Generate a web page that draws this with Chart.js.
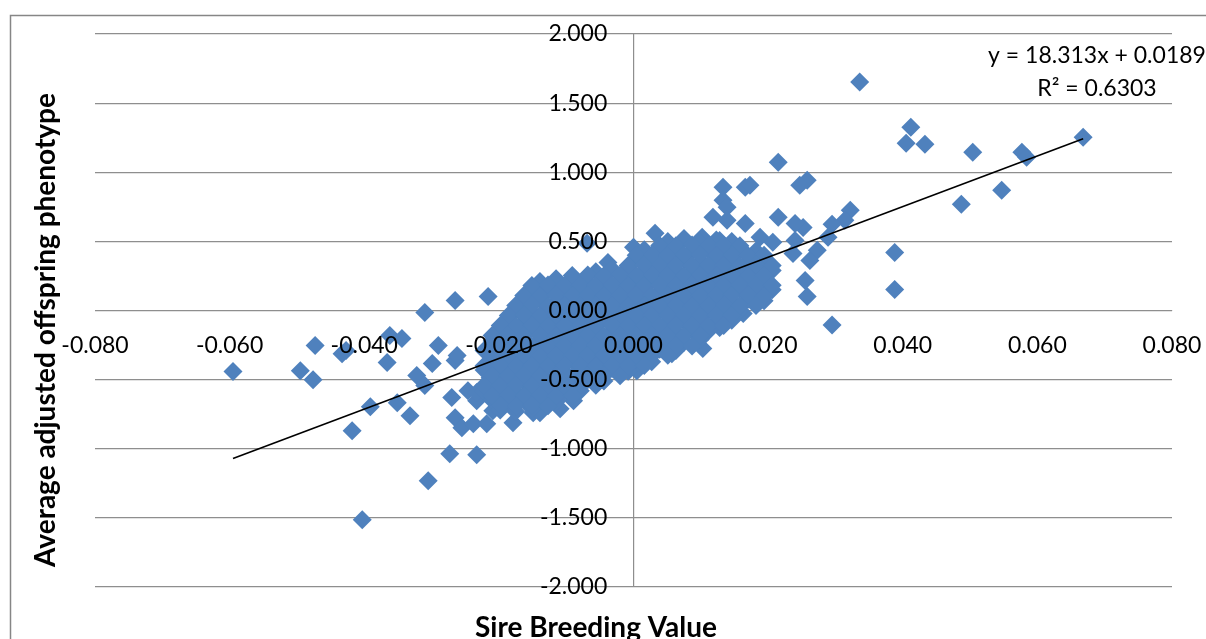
<!DOCTYPE html>
<html>
<head>
<meta charset="utf-8">
<script src="https://cdn.jsdelivr.net/npm/chart.js@4"></script>
<style>
  html, body { margin: 0; padding: 0; background: #fff; overflow: hidden; }
  #wrap { width: 1206px; height: 639px; }
</style>
</head>
<body>
<div id="wrap"><canvas id="chart" width="1206" height="639"></canvas></div>
<script>
// regression from the chart label
const TREND_SLOPE = 18.313;
const TREND_INTERCEPT = 0.0189;
const TREND_R2 = 0.6303;

const X_TITLE = "Sire Breeding Value";
const Y_TITLE = "Average adjusted offspring phenotype";

// scattered sires
const outlyingPoints = [
  [0.0336, 1.652], [0.0412, 1.326], [0.0405, 1.210], [0.0433, 1.203], [0.0504, 1.145],
  [0.0577, 1.145], [0.0584, 1.109], [0.0668, 1.254], [0.0547, 0.870], [0.0487, 0.768],
  [0.0388, 0.420], [0.0388, 0.152], [0.0295, -0.105], [0.0322, 0.725], [0.0314, 0.652],
  [0.0295, 0.623], [0.0289, 0.529], [0.0273, 0.435], [0.0262, 0.362], [0.0255, 0.217],
  [0.0258, 0.101], [0.0252, 0.601], [0.0258, 0.942], [0.0247, 0.906], [0.0215, 1.072],
  [0.0133, 0.891], [0.0166, 0.891], [0.0173, 0.906], [0.0133, 0.797], [0.0139, 0.746],
  [0.0118, 0.674], [0.0139, 0.652], [0.0166, 0.630], [0.0215, 0.674], [0.0240, 0.630],
  [0.0102, 0.529], [0.0128, 0.507], [0.0188, 0.529], [0.0207, 0.493], [0.0240, 0.507],
  [0.0237, 0.413], [0.0203, 0.145], [0.0191, 0.275], [0.0176, 0.196], [0.0032, 0.558],
  [-0.0069, 0.486], [0.0000, 0.457], [-0.0038, 0.348], [0.0005, -0.435], [0.0057, -0.312],
  [0.0103, -0.275], [0.0128, -0.123], [0.0163, -0.022], [-0.0025, -0.384], [-0.0039, -0.341],
  [-0.0595, -0.442], [-0.0495, -0.435], [-0.0476, -0.500], [-0.0473, -0.254], [-0.0433, -0.312],
  [-0.0427, -0.290], [-0.0362, -0.181], [-0.0344, -0.203], [-0.0366, -0.377], [-0.0310, -0.014],
  [-0.0322, -0.471], [-0.0391, -0.696], [-0.0351, -0.667], [-0.0332, -0.761], [-0.0418, -0.870],
  [-0.0403, -1.514], [-0.0305, -1.232], [-0.0273, -1.036], [-0.0233, -1.043], [-0.0290, -0.254],
  [-0.0299, -0.384], [-0.0265, -0.362], [-0.0310, -0.543], [-0.0270, -0.630], [-0.0246, -0.580],
  [-0.0233, -0.652], [-0.0265, -0.775], [-0.0255, -0.848], [-0.0238, -0.819], [-0.0218, -0.819],
  [-0.0179, -0.812], [-0.0209, -0.725], [-0.0198, -0.674], [-0.0149, -0.739], [-0.0169, -0.652],
  [-0.0213, -0.486], [-0.0233, -0.594], [-0.0265, 0.072], [-0.0216, 0.101], [-0.0262, -0.326],
  [-0.0089, -0.652], [-0.0109, -0.710], [-0.0139, -0.739]
];

// dense central cloud, read row by row
const clusterPoints = [
  [0.0051, 0.50], [0.0075, 0.52], [0.0099, 0.49], [0.0123, 0.51], [0.0146, 0.50],
  [0.0016, 0.44], [0.0039, 0.42], [0.0063, 0.45], [0.0087, 0.43], [0.0111, 0.44], [0.0134, 0.42], [0.0158, 0.44], [0.0182, 0.43],
  [0.0004, 0.37], [0.0027, 0.35], [0.0051, 0.36], [0.0075, 0.37], [0.0099, 0.35], [0.0123, 0.36], [0.0146, 0.37], [0.0170, 0.35], [0.0194, 0.36],
  [-0.0056, 0.28], [-0.0032, 0.30], [-0.0008, 0.29], [0.0016, 0.28], [0.0039, 0.30], [0.0063, 0.29], [0.0087, 0.28], [0.0111, 0.30], [0.0134, 0.29], [0.0158, 0.28], [0.0182, 0.30], [0.0206, 0.29],
  [-0.0139, 0.21], [-0.0115, 0.23], [-0.0091, 0.22], [-0.0068, 0.20], [-0.0044, 0.22], [-0.0020, 0.21], [0.0004, 0.23], [0.0027, 0.22], [0.0051, 0.21], [0.0075, 0.22], [0.0099, 0.23], [0.0123, 0.21], [0.0146, 0.22], [0.0170, 0.21], [0.0194, 0.22],
  [-0.0151, 0.14], [-0.0127, 0.15], [-0.0103, 0.13], [-0.0079, 0.15], [-0.0056, 0.14], [-0.0032, 0.16], [-0.0008, 0.14], [0.0016, 0.15], [0.0039, 0.13], [0.0063, 0.15], [0.0087, 0.14], [0.0111, 0.15], [0.0134, 0.14], [0.0158, 0.16], [0.0182, 0.14], [0.0206, 0.15],
  [-0.0163, 0.07], [-0.0139, 0.08], [-0.0115, 0.06], [-0.0091, 0.08], [-0.0068, 0.07], [-0.0044, 0.06], [-0.0020, 0.08], [0.0004, 0.07], [0.0027, 0.08], [0.0051, 0.06], [0.0075, 0.07], [0.0099, 0.08], [0.0123, 0.07], [0.0146, 0.06], [0.0170, 0.08], [0.0194, 0.07],
  [-0.0175, 0.00], [-0.0151, -0.01], [-0.0127, 0.01], [-0.0103, 0.00], [-0.0079, -0.01], [-0.0056, 0.01], [-0.0032, 0.00], [-0.0008, -0.01], [0.0016, 0.01], [0.0039, 0.00], [0.0063, -0.01], [0.0087, 0.01], [0.0111, 0.00], [0.0134, -0.01], [0.0158, 0.00],
  [-0.0186, -0.07], [-0.0163, -0.08], [-0.0139, -0.06], [-0.0115, -0.07], [-0.0091, -0.08], [-0.0068, -0.07], [-0.0044, -0.06], [-0.0020, -0.08], [0.0004, -0.07], [0.0027, -0.06], [0.0051, -0.08], [0.0075, -0.07], [0.0099, -0.06], [0.0123, -0.08], [0.0146, -0.07],
  [-0.0198, -0.14], [-0.0175, -0.15], [-0.0151, -0.13], [-0.0127, -0.15], [-0.0103, -0.14], [-0.0079, -0.16], [-0.0056, -0.14], [-0.0032, -0.15], [-0.0008, -0.13], [0.0016, -0.15], [0.0039, -0.14], [0.0063, -0.16], [0.0087, -0.14], [0.0111, -0.15],
  [-0.0210, -0.22], [-0.0186, -0.21], [-0.0163, -0.23], [-0.0139, -0.22], [-0.0115, -0.21], [-0.0091, -0.22], [-0.0068, -0.23], [-0.0044, -0.21], [-0.0020, -0.22], [0.0004, -0.20], [0.0027, -0.22], [0.0051, -0.21], [0.0075, -0.23], [0.0099, -0.21],
  [-0.0222, -0.29], [-0.0198, -0.30], [-0.0175, -0.28], [-0.0151, -0.29], [-0.0127, -0.30], [-0.0103, -0.28], [-0.0079, -0.29], [-0.0056, -0.30], [-0.0032, -0.28], [-0.0008, -0.29], [0.0016, -0.30], [0.0039, -0.28], [0.0063, -0.29],
  [-0.0210, -0.36], [-0.0186, -0.37], [-0.0163, -0.35], [-0.0139, -0.36], [-0.0115, -0.37], [-0.0091, -0.36], [-0.0068, -0.35], [-0.0044, -0.37], [-0.0020, -0.36], [0.0004, -0.35], [0.0027, -0.37],
  [-0.0222, -0.43], [-0.0198, -0.44], [-0.0175, -0.42], [-0.0151, -0.44], [-0.0127, -0.43], [-0.0103, -0.45], [-0.0079, -0.43], [-0.0056, -0.44], [-0.0032, -0.42], [-0.0008, -0.44],
  [-0.0210, -0.50], [-0.0186, -0.52], [-0.0163, -0.51], [-0.0139, -0.50], [-0.0115, -0.52], [-0.0091, -0.51], [-0.0068, -0.50], [-0.0044, -0.51],
  [-0.0222, -0.58], [-0.0198, -0.57], [-0.0175, -0.59], [-0.0151, -0.58], [-0.0127, -0.57], [-0.0103, -0.59], [-0.0079, -0.58],
  [-0.0210, -0.65], [-0.0186, -0.66], [-0.0163, -0.64], [-0.0139, -0.65], [-0.0115, -0.66],
  [-0.0198, -0.72], [-0.0175, -0.73], [-0.0151, -0.71]
];

// the in-between rows of the same cloud
const clusterInfill = [
  [0.0039, 0.471], [0.0063, 0.468], [0.0087, 0.474], [0.0111, 0.470], [0.0134, 0.472], [0.0158, 0.469],
  [0.0004, 0.399], [0.0027, 0.402], [0.0051, 0.397], [0.0075, 0.400], [0.0099, 0.403], [0.0123, 0.398], [0.0146, 0.401], [0.0170, 0.397], [0.0194, 0.400],
  [-0.0008, 0.326], [0.0016, 0.329], [0.0039, 0.324], [0.0063, 0.327], [0.0087, 0.325], [0.0111, 0.328], [0.0134, 0.326], [0.0158, 0.323], [0.0182, 0.327], [0.0206, 0.325],
  [-0.0091, 0.254], [-0.0068, 0.257], [-0.0044, 0.252], [-0.0020, 0.255], [0.0004, 0.253], [0.0027, 0.256], [0.0051, 0.254], [0.0075, 0.251], [0.0099, 0.255], [0.0123, 0.253], [0.0146, 0.256], [0.0170, 0.252], [0.0194, 0.254],
  [-0.0151, 0.181], [-0.0127, 0.184], [-0.0103, 0.179], [-0.0079, 0.182], [-0.0056, 0.180], [-0.0032, 0.183], [-0.0008, 0.181], [0.0016, 0.178], [0.0039, 0.182], [0.0063, 0.180], [0.0087, 0.183], [0.0111, 0.179], [0.0134, 0.181], [0.0158, 0.184], [0.0182, 0.180], [0.0206, 0.182],
  [-0.0163, 0.109], [-0.0139, 0.106], [-0.0115, 0.111], [-0.0091, 0.108], [-0.0068, 0.110], [-0.0044, 0.107], [-0.0020, 0.109], [0.0004, 0.112], [0.0027, 0.108], [0.0051, 0.110], [0.0075, 0.106], [0.0099, 0.109], [0.0123, 0.111], [0.0146, 0.108], [0.0170, 0.110], [0.0194, 0.107],
  [-0.0175, 0.036], [-0.0151, 0.039], [-0.0127, 0.034], [-0.0103, 0.037], [-0.0079, 0.035], [-0.0056, 0.038], [-0.0032, 0.036], [-0.0008, 0.033], [0.0016, 0.037], [0.0039, 0.035], [0.0063, 0.038], [0.0087, 0.034], [0.0111, 0.036], [0.0134, 0.039], [0.0158, 0.035], [0.0182, 0.037],
  [-0.0186, -0.036], [-0.0163, -0.033], [-0.0139, -0.038], [-0.0115, -0.035], [-0.0091, -0.037], [-0.0068, -0.034], [-0.0044, -0.036], [-0.0020, -0.039], [0.0004, -0.035], [0.0027, -0.037], [0.0051, -0.034], [0.0075, -0.036], [0.0099, -0.038], [0.0123, -0.035], [0.0146, -0.037],
  [-0.0198, -0.109], [-0.0175, -0.112], [-0.0151, -0.107], [-0.0127, -0.110], [-0.0103, -0.108], [-0.0079, -0.111], [-0.0056, -0.109], [-0.0032, -0.106], [-0.0008, -0.110], [0.0016, -0.108], [0.0039, -0.111], [0.0063, -0.107], [0.0087, -0.109], [0.0111, -0.112], [0.0134, -0.108],
  [-0.0210, -0.181], [-0.0186, -0.178], [-0.0163, -0.183], [-0.0139, -0.180], [-0.0115, -0.182], [-0.0091, -0.179], [-0.0068, -0.181], [-0.0044, -0.184], [-0.0020, -0.180], [0.0004, -0.182], [0.0027, -0.179], [0.0051, -0.181], [0.0075, -0.183], [0.0099, -0.180],
  [-0.0198, -0.254], [-0.0175, -0.251], [-0.0151, -0.256], [-0.0127, -0.253], [-0.0103, -0.255], [-0.0079, -0.252], [-0.0056, -0.254], [-0.0032, -0.257], [-0.0008, -0.253], [0.0016, -0.255], [0.0039, -0.252], [0.0063, -0.254], [0.0087, -0.256],
  [-0.0210, -0.326], [-0.0186, -0.329], [-0.0163, -0.324], [-0.0139, -0.327], [-0.0115, -0.325], [-0.0091, -0.328], [-0.0068, -0.326], [-0.0044, -0.323], [-0.0020, -0.327], [0.0004, -0.325], [0.0027, -0.328], [0.0051, -0.324],
  [-0.0222, -0.399], [-0.0198, -0.396], [-0.0175, -0.401], [-0.0151, -0.398], [-0.0127, -0.400], [-0.0103, -0.397], [-0.0079, -0.399], [-0.0056, -0.402], [-0.0032, -0.398], [-0.0008, -0.400], [0.0016, -0.397],
  [-0.0210, -0.471], [-0.0186, -0.474], [-0.0163, -0.469], [-0.0139, -0.472], [-0.0115, -0.470], [-0.0091, -0.473], [-0.0068, -0.471], [-0.0044, -0.468], [-0.0020, -0.472],
  [-0.0222, -0.543], [-0.0198, -0.546], [-0.0175, -0.541], [-0.0151, -0.544], [-0.0127, -0.542], [-0.0103, -0.545], [-0.0079, -0.543], [-0.0056, -0.540],
  [-0.0210, -0.616], [-0.0186, -0.613], [-0.0163, -0.618], [-0.0139, -0.615], [-0.0115, -0.617], [-0.0091, -0.614],
  [-0.0198, -0.688], [-0.0175, -0.691], [-0.0151, -0.686], [-0.0127, -0.689]
];

const BLUE = "#4F81BD";
const GRID = "#8e8e8e";
const FONT = "Lato, 'Open Sans', sans-serif";

const allPoints = outlyingPoints.concat(clusterPoints, clusterInfill).map(([x, y]) => ({ x, y }));
const xs = allPoints.map(p => p.x);
const xMin = Math.min(...xs);
const xMax = Math.max(...xs);
const trend = [xMin, xMax].map(x => ({ x, y: TREND_SLOPE * x + TREND_INTERCEPT }));

// titles, equation and outer frame (Excel chart look)
const decor = {
  id: "decor",
  afterDraw(chart){
    const c = chart.ctx;
    c.save();
    c.strokeStyle = "#868686";
    c.lineWidth = 1.5;
    c.strokeRect(10.5, 15.5, 1400, 800);

    c.fillStyle = "#000";
    c.font = "bold 28px " + FONT;
    c.textAlign = "center";
    c.textBaseline = "alphabetic";
    c.fillText(X_TITLE, 596, 637);

    c.save();
    c.translate(55, 330);
    c.rotate(-Math.PI / 2);
    c.fillText(Y_TITLE, 0, 0);
    c.restore();

    c.font = "23px " + FONT;
    c.textBaseline = "middle";
    c.fillText(`y = ${TREND_SLOPE.toFixed(3)}x + ${TREND_INTERCEPT.toFixed(4)}`, 1097, 56);
    c.fillText(`R\u00B2 = ${TREND_R2.toFixed(4)}`, 1097, 89);
    c.restore();
  }
};

new Chart(document.getElementById("chart"), {
  type: "scatter",
  data: {
    datasets: [
      {
        type: "line",
        data: trend,
        borderColor: "#000",
        borderWidth: 1.6,
        pointRadius: 0,
        fill: false,
        order: 0
      },
      {
        data: allPoints,
        pointStyle: "rectRot",
        pointRadius: 9.5,
        pointHoverRadius: 9.5,
        backgroundColor: BLUE,
        borderColor: BLUE,
        borderWidth: 0,
        order: 1
      }
    ]
  },
  options: {
    responsive: false,
    animation: false,
    layout: { padding: { left: 95, right: 34, top: 34, bottom: 52 } },
    plugins: { legend: { display: false }, tooltip: { enabled: false } },
    scales: {
      x: {
        type: "linear",
        min: -0.08, max: 0.08,
        position: { y: 0 },
        border: { display: true, color: GRID, width: 1 },
        grid: {
          drawTicks: true,
          tickLength: 21,
          tickColor: "rgba(0,0,0,0)",
          color: (ctx) => (ctx.tick && Math.abs(ctx.tick.value) < 1e-9) ? GRID : "rgba(0,0,0,0)",
          lineWidth: 1.2
        },
        ticks: {
          stepSize: 0.02,
          padding: 0,
          z: 1,
          color: "#000",
          font: { family: FONT, size: 23 },
          maxRotation: 0,
          callback: (v) => Number(v).toFixed(3)
        }
      },
      y: {
        type: "linear",
        min: -2, max: 2,
        position: { x: -0.0039 },
        border: { display: false },
        grid: { drawTicks: false, color: GRID, lineWidth: 1.2 },
        ticks: {
          stepSize: 0.5,
          z: 1,
          color: "#000",
          font: { family: FONT, size: 23 },
          callback: (v) => Number(v).toFixed(3)
        }
      }
    }
  },
  plugins: [decor]
});
</script>
</body>
</html>
